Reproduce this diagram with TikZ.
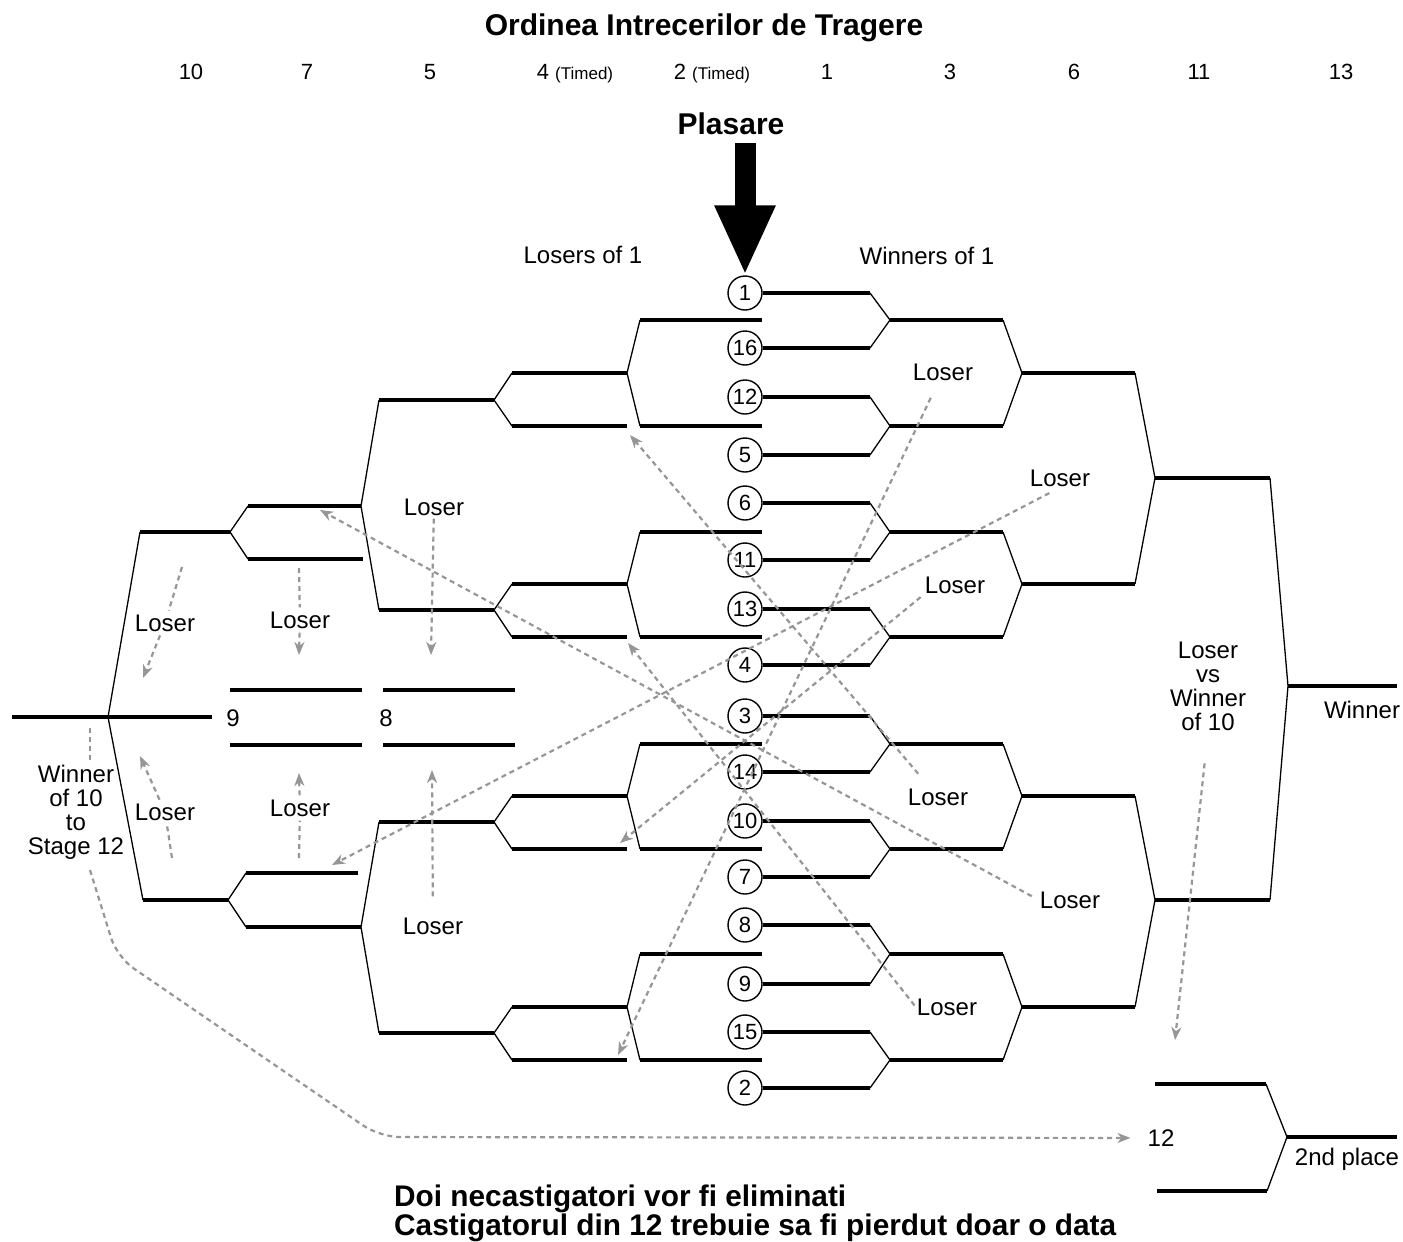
\documentclass[tikz,border=0pt]{standalone}
\usepackage{fontspec}
\setmainfont{Liberation Sans}
\usetikzlibrary{arrows.meta}
\definecolor{dashgray}{RGB}{150,150,150}
\newcommand{\timedsize}{\fontsize{17}{17}\selectfont}

\tikzset{
  head/.style={font=\fontsize{30}{30}\selectfont\bfseries, inner sep=0pt, anchor=base},
  order/.style={font=\fontsize{22}{22}\selectfont, inner sep=0pt, anchor=base},
  lbl/.style={font=\fontsize{24}{24}\selectfont, align=center, inner sep=1pt},
  seed/.style={shape=circle, draw=black, line width=1.4pt, minimum size=34pt, inner sep=0pt, font=\fontsize{22}{22}\selectfont},
  thickline/.style={line width=4pt},
  thinline/.style={line width=1.3pt},
  dashline/.style={color=dashgray, line width=2.2pt, dash pattern=on 5pt off 4pt},
  loserarrow/.style={dashline, -{Stealth[length=13pt, width=10pt, inset=4pt]}},
  bigarrow/.style={line width=21pt, -{Triangle[length=70pt, width=56pt]}},
}

\begin{document}
\begin{tikzpicture}[x=1pt, y=-1pt]
\useasboundingbox (0,0) rectangle (1403,1242);

\node[head] (title) at (704,35) {Ordinea Intrecerilor de Tragere};
\node[order] (o10) at (191,79) {10};
\node[order] (o7) at (307,79) {7};
\node[order] (o5) at (430,79) {5};
\node[order] (o4) at (575,79) {4 {\timedsize (Timed)}};
\node[order] (o2) at (712,79) {2 {\timedsize (Timed)}};
\node[order] (o1) at (827,79) {1};
\node[order] (o3) at (950,79) {3};
\node[order] (o6) at (1074,79) {6};
\node[order] (o11) at (1199,79) {11};
\node[order] (o13) at (1341,79) {13};
\node[head] (plasare) at (731,134) {Plasare};

\node[lbl] (losers1) at (583,255) {Losers of 1};
\node[lbl] (winners1) at (927,256) {Winners of 1};

\node[seed] (s1) at (745,293) {1};
\node[seed] (s16) at (745,348) {16};
\node[seed] (s12) at (745,397) {12};
\node[seed] (s5) at (745,455) {5};
\node[seed] (s6) at (745,503) {6};
\node[seed] (s11) at (745,560) {11};
\node[seed] (s13) at (745,609) {13};
\node[seed] (s4) at (745,665) {4};
\node[seed] (s3) at (745,716) {3};
\node[seed] (s14) at (745,772) {14};
\node[seed] (s10) at (745,821) {10};
\node[seed] (s7) at (745,877) {7};
\node[seed] (s8) at (745,925) {8};
\node[seed] (s9) at (745,984) {9};
\node[seed] (s15) at (745,1032) {15};
\node[seed] (s2) at (745,1088) {2};

\coordinate (arrowtop) at (745,143);
\draw[bigarrow] (arrowtop) -- (s1.north);

% winners side
\draw[thickline] (s1.east) -- (870,293) (s16.east) -- (870,348) (s12.east) -- (870,397) (s5.east) -- (870,455)
  (s6.east) -- (870,503) (s11.east) -- (870,560) (s13.east) -- (870,609) (s4.east) -- (870,665)
  (s3.east) -- (870,716) (s14.east) -- (870,772) (s10.east) -- (870,821) (s7.east) -- (870,877)
  (s8.east) -- (870,925) (s9.east) -- (870,984) (s15.east) -- (870,1032) (s2.east) -- (870,1088);
\draw[thinline] (870,293) -- (890,320) -- (870,348) (870,397) -- (890,426) -- (870,455)
  (870,503) -- (890,532) -- (870,560) (870,609) -- (890,637) -- (870,665)
  (870,716) -- (890,744) -- (870,772) (870,821) -- (890,849) -- (870,877)
  (870,925) -- (890,954) -- (870,984) (870,1032) -- (890,1060) -- (870,1088);
\draw[thickline] (890,320) -- (1003,320) (890,426) -- (1003,426) (890,532) -- (1003,532) (890,637) -- (1003,637)
  (890,744) -- (1003,744) (890,849) -- (1003,849) (890,954) -- (1003,954) (890,1060) -- (1003,1060);
\draw[thinline] (1003,320) -- (1022,373) -- (1003,426) (1003,532) -- (1022,584) -- (1003,637)
  (1003,744) -- (1022,796) -- (1003,849) (1003,954) -- (1022,1007) -- (1003,1060);
\draw[thickline] (1022,373) -- (1135,373) (1022,584) -- (1135,584) (1022,796) -- (1135,796) (1022,1007) -- (1135,1007);
\draw[thinline] (1135,373) -- (1155,478) -- (1135,584) (1135,796) -- (1155,900) -- (1135,1007);
\draw[thickline] (1155,478) -- (1270,478) (1155,900) -- (1270,900);
\draw[thinline] (1270,478) -- (1288,686) -- (1270,900);
\draw[thickline] (1288,686) -- (1397,686);

% losers side
\draw[thickline] (640,320) -- (762,320) (640,426) -- (762,426) (640,532) -- (762,532) (640,637) -- (762,637)
  (640,744) -- (762,744) (640,849) -- (762,849) (640,954) -- (762,954) (640,1060) -- (762,1060);
\draw[thinline] (640,320) -- (627,373) -- (640,426) (640,532) -- (627,584) -- (640,637)
  (640,744) -- (627,796) -- (640,849) (640,954) -- (627,1007) -- (640,1060);
\draw[thickline] (512,373) -- (627,373) (512,426) -- (627,426) (512,584) -- (627,584) (512,637) -- (627,637)
  (512,796) -- (627,796) (512,849) -- (627,849) (512,1007) -- (627,1007) (512,1060) -- (627,1060);
\draw[thinline] (512,373) -- (494,400) -- (512,426) (512,584) -- (494,610) -- (512,637)
  (512,796) -- (494,822) -- (512,849) (512,1007) -- (494,1033) -- (512,1060);
\draw[thickline] (379,400) -- (494,400) (379,610) -- (494,610) (379,822) -- (494,822) (379,1033) -- (494,1033);
\draw[thinline] (379,400) -- (361,506) -- (379,610) (379,822) -- (361,927) -- (379,1033);
\draw[thickline] (248,506) -- (361,506) (248,559) -- (363,559) (246,873) -- (358,873) (246,927) -- (361,927);
\draw[thinline] (248,506) -- (230,532) -- (248,559) (246,873) -- (228,900) -- (246,927);
\draw[thickline] (140,532) -- (230,532) (143,900) -- (228,900);
\draw[thinline] (140,532) -- (108,717) -- (143,900);
\draw[thickline] (12,717) -- (212,717);
\draw[thickline] (230,690) -- (362,690) (230,745) -- (362,745) (383,690) -- (515,690) (383,745) -- (515,745);
\node[lbl] (n9) at (233,718) {9};
\node[lbl] (n8) at (386,718) {8};

% stage 12
\draw[thickline] (1155,1084) -- (1266,1084) (1157,1191) -- (1267,1191) (1287,1137) -- (1397,1137);
\draw[thinline] (1266,1084) -- (1287,1137) -- (1267,1191);
\node[lbl] (n12) at (1161,1138) {12};
\node[lbl] (second) at (1347,1159) {2nd place};
\node[lbl] (win) at (1362,710) {Winner};
\node[lbl] (final) at (1208,686) {Loser\\vs\\Winner\\of 10};
\node[lbl] (stage12) at (76,812) {Winner\\of 10\\to\\Stage 12};

% loser labels
\node[lbl] (lA) at (943,372) {Loser};
\node[lbl] (lB) at (1060,478) {Loser};
\node[lbl] (lC) at (955,585) {Loser};
\node[lbl] (lD) at (938,797) {Loser};
\node[lbl] (lE) at (1070,900) {Loser};
\node[lbl] (lF) at (947,1007) {Loser};
\node[lbl] (lG) at (165,623) {Loser};
\node[lbl] (lH) at (300,620) {Loser};
\node[lbl] (lI) at (434,507) {Loser};
\node[lbl] (lJ) at (165,812) {Loser};
\node[lbl] (lK) at (300,808) {Loser};
\node[lbl] (lL) at (433,926) {Loser};

\coordinate (tA) at (618,1055);
\coordinate (tB) at (332,865);
\coordinate (tC) at (620,843);
\coordinate (tD) at (630,435);
\coordinate (tE) at (320,510);
\coordinate (tF) at (628,643);
\coordinate (tFinal) at (1175,1040);
\coordinate (fG) at (182,567);
\coordinate (tG) at (143,678);
\coordinate (fH) at (299,568);
\coordinate (tH) at (299,655);
\coordinate (tI) at (431,655);
\coordinate (fJ) at (172,858);
\coordinate (tJ) at (140,756);
\coordinate (fK) at (299,858);
\coordinate (tK) at (299,773);
\coordinate (tL) at (432,770);
\coordinate (w0) at (90,728);
\coordinate (w1) at (90,870);

\path[loserarrow, shorten <=18pt] (lA) edge (tA);
\path[loserarrow, shorten <=12pt] (lB.south) edge (tB);
\path[loserarrow, shorten <=4pt] (lC.south west) edge (tC);
\path[loserarrow, shorten <=18pt] (lD) edge (tD);
\path[loserarrow, shorten <=8pt] (lE.west) edge (tE);
\path[loserarrow, shorten <=2pt] (lF.west) edge (tF);
\path[loserarrow, shorten <=32pt] (final.south) edge (tFinal);
\path[dashline, shorten >=3pt] (fG) edge (lG);
\path[loserarrow, shorten <=3pt] (lG) edge (tG);
\path[dashline, shorten >=3pt] (fH) edge (lH);
\path[loserarrow, shorten <=3pt] (lH) edge (tH);
\path[loserarrow, shorten <=2pt] (lI) edge (tI);
\path[dashline, shorten >=3pt] (fJ) edge (lJ);
\path[loserarrow, shorten <=3pt] (lJ) edge (tJ);
\path[dashline, shorten >=3pt] (fK) edge (lK);
\path[loserarrow, shorten <=3pt] (lK) edge (tK);
\path[loserarrow, shorten <=20pt] (lL) edge (tL);
\draw[dashline] (w0) -- (w0 |- stage12.north);
\draw[loserarrow, rounded corners=20pt, shorten >=16pt] (w1) -- (117,957) -- (380,1137) -- (n12);

\node[font=\fontsize{29.8}{29}\selectfont\bfseries, align=left, inner sep=0pt, anchor=base west] (note) at (394,1235)
  {Doi necastigatori vor fi eliminati\\Castigatorul din 12 trebuie sa fi pierdut doar o data};
\end{tikzpicture}
\end{document}
